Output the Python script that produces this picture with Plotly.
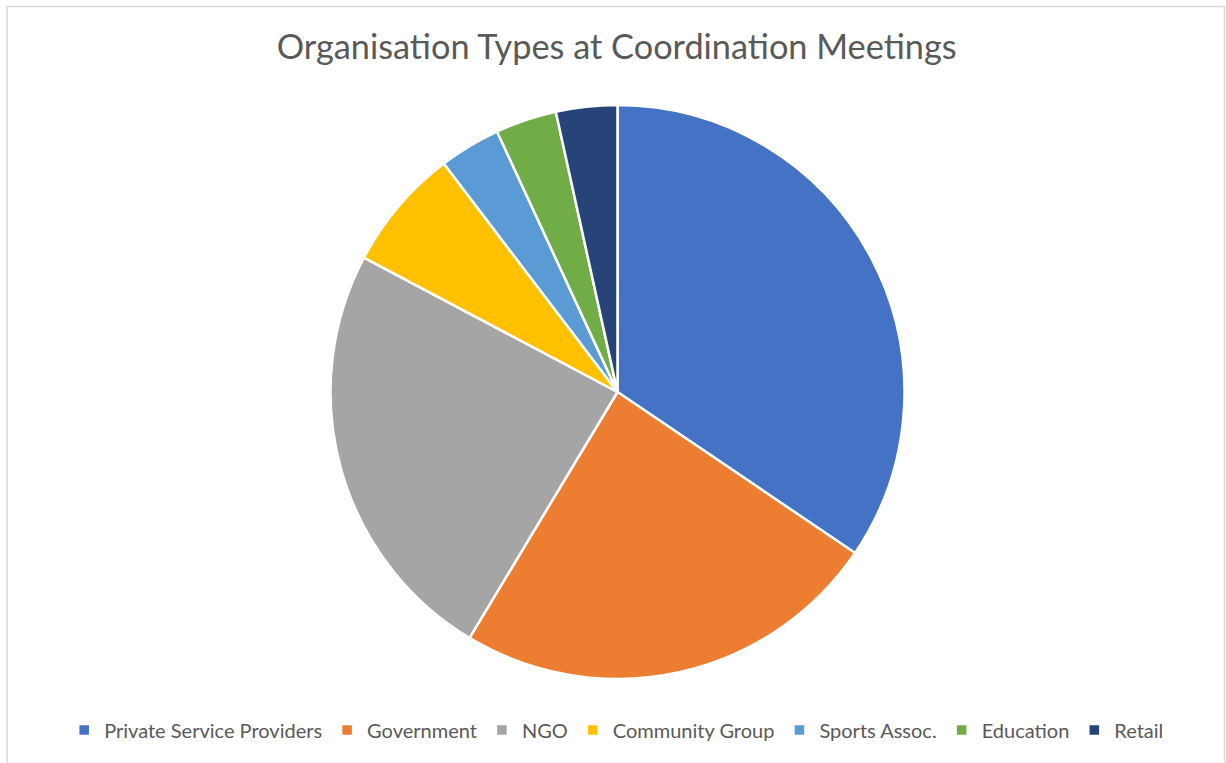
import plotly.graph_objects as go

# Organisation types represented at coordination meetings (counts)
categories = ["Private Service Providers", "Government", "NGO", "Community Group",
              "Sports Assoc.", "Education", "Retail"]
counts = [10, 7, 7, 2, 1, 1, 1]
colors = ["#4472C4", "#ED7D31", "#A5A5A5", "#FFC000", "#5B9BD5", "#70AD47", "#264478"]

W, H = 1226, 763
cx, cy, r = 617.5, 392, 287

fig = go.Figure(go.Pie(
    labels=categories,
    values=counts,
    sort=False,
    direction="clockwise",
    rotation=0,
    textinfo="none",
    hoverinfo="label+value+percent",
    marker=dict(colors=colors, line=dict(color="white", width=2.5)),
    domain=dict(x=[(cx - r) / W, (cx + r) / W], y=[1 - (cy + r) / H, 1 - (cy - r) / H]),
))

fig.update_layout(
    width=W, height=H,
    margin=dict(l=0, r=0, t=0, b=0),
    paper_bgcolor="white",
    font=dict(family="Lato, Open Sans, sans-serif", color="#595959"),
    title=dict(text="Organisation Types at Coordination Meetings",
               x=0.503, xanchor="center", y=1 - 47 / H, yanchor="middle",
               font=dict(size=34.3, color="#595959")),
    showlegend=True,
    legend=dict(orientation="h", x=0.503, xanchor="center", y=1 - 730 / H, yanchor="middle",
                font=dict(size=20, color="#595959"), itemwidth=30,
                traceorder="normal", bgcolor="rgba(0,0,0,0)"),
    shapes=[dict(type="rect", xref="paper", yref="paper",
                 x0=7 / W, x1=1224.5 / W, y0=-0.01, y1=1 - 6.5 / H,
                 line=dict(color="#D9D9D9", width=1.5), fillcolor="rgba(0,0,0,0)")],
)

fig.write_html("out.html")
